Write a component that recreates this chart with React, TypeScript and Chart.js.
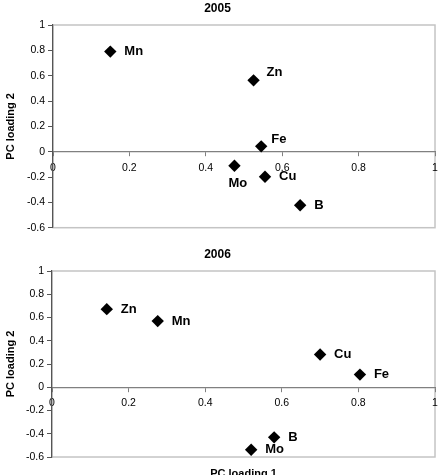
import React, { useEffect, useRef } from "react";
import { Chart, registerables } from "chart.js";

Chart.register(...registerables);

// ---- data ----
const elements2005 = ["Mn", "Zn", "Fe", "Mo", "Cu", "B"];
const pc1_2005 = [0.15, 0.525, 0.545, 0.475, 0.555, 0.647];
const pc2_2005 = [0.79, 0.563, 0.042, -0.111, -0.198, -0.423];

const elements2006 = ["Zn", "Mn", "Cu", "Fe", "B", "Mo"];
const pc1_2006 = [0.143, 0.276, 0.7, 0.804, 0.58, 0.52];
const pc2_2006 = [0.672, 0.569, 0.282, 0.109, -0.431, -0.537];

const xTicks = [0, 0.2, 0.4, 0.6, 0.8, 1];
const yTicks = [-0.6, -0.4, -0.2, 0, 0.2, 0.4, 0.6, 0.8, 1];

const xTitle = "PC loading 1";
const yTitle = "PC loading 2";

// label placement (style only)
const labelOffsets2005: Record<string, [number, number]> = {
  Zn: [13, -8],
  Fe: [10, -7],
  Mo: [-6, 18],
};
const labelOffsets2006: Record<string, [number, number]> = {};

const FONT = "'Liberation Sans', Arial, sans-serif";

type PanelProps = {
  title: string;
  names: string[];
  xs: number[];
  ys: number[];
  offsets: Record<string, [number, number]>;
  height: number;
  marginTop: number;
  yWidth: number;
  padBottom: number;
  titlePad: { top: number; bottom: number };
  showXTitle: boolean;
};

function Panel(p: PanelProps) {
  const ref = useRef<HTMLCanvasElement | null>(null);
  useEffect(() => {
    if (!ref.current) return;
    const borderPlugin = {
      id: "plotBorder",
      beforeDraw(chart: any) {
        const { ctx, chartArea } = chart;
        ctx.save();
        ctx.strokeStyle = "#c4c4c4";
        ctx.lineWidth = 1.5;
        ctx.strokeRect(
          chartArea.left,
          chartArea.top,
          chartArea.right - chartArea.left,
          chartArea.bottom - chartArea.top
        );
        ctx.restore();
      },
    };
    const labelPlugin = {
      id: "pointLabels",
      afterDatasetsDraw(chart: any) {
        const { ctx, chartArea } = chart;
        const meta = chart.getDatasetMeta(0);
        ctx.save();
        ctx.font = `bold 13px ${FONT}`;
        ctx.fillStyle = "#000";
        ctx.textAlign = "left";
        ctx.textBaseline = "middle";
        meta.data.forEach((pt: any, i: number) => {
          const name = p.names[i];
          const off = p.offsets[name] || [14, 0];
          ctx.fillText(name, pt.x + off[0], pt.y + off[1]);
        });
        if (p.showXTitle) {
          ctx.font = `bold 11px ${FONT}`;
          ctx.textAlign = "center";
          ctx.fillText(
            xTitle,
            (chartArea.left + chartArea.right) / 2,
            chartArea.bottom + 17
          );
        }
        ctx.restore();
      },
    };
    const chart = new Chart(ref.current, {
      type: "scatter",
      data: {
        datasets: [
          {
            data: p.xs.map((x, i) => ({ x, y: p.ys[i] })),
            pointStyle: "rectRot",
            pointRadius: 6.2,
            pointHoverRadius: 6.2,
            backgroundColor: "#000",
            borderColor: "#000",
            borderWidth: 0,
          },
        ],
      },
      options: {
        responsive: false,
        animation: false,
        events: [],
        layout: { padding: { top: 0, left: 0, right: 10, bottom: p.padBottom } },
        plugins: {
          legend: { display: false },
          tooltip: { enabled: false },
          title: {
            display: true,
            text: p.title,
            color: "#000",
            font: { family: FONT, size: 12, weight: "bold" },
            padding: p.titlePad,
          },
        },
        scales: {
          x: {
            type: "linear",
            min: 0,
            max: 1,
            position: { y: 0 } as any,
            afterBuildTicks: (s: any) => {
              s.ticks = xTicks.map((v) => ({ value: v }));
            },
            ticks: {
              color: "#000",
              font: { family: FONT, size: 10.5 },
              padding: 6,
              maxRotation: 0,
              callback: (v: any) => String(v),
            },
            grid: {
              display: true,
              drawOnChartArea: false,
              drawTicks: true,
              tickLength: 4,
              color: "#808080",
            },
            border: { display: true, color: "#808080", width: 1.2 },
          },
          y: {
            type: "linear",
            min: -0.6,
            max: 1,
            afterBuildTicks: (s: any) => {
              s.ticks = yTicks.map((v) => ({ value: v }));
            },
            afterFit: (s: any) => {
              s.width = p.yWidth;
            },
            ticks: {
              color: "#000",
              font: { family: FONT, size: 10.5 },
              padding: 3,
              callback: (v: any) => String(v),
            },
            grid: {
              display: true,
              drawOnChartArea: false,
              drawTicks: true,
              tickLength: 5,
              color: "#555",
            },
            border: { display: true, color: "#555", width: 1.2 },
            title: {
              display: true,
              text: yTitle,
              color: "#000",
              font: { family: FONT, size: 11, weight: "bold" },
              padding: { top: 4, bottom: 0 },
            },
          },
        },
      },
      plugins: [borderPlugin, labelPlugin],
    });
    return () => chart.destroy();
  }, []);
  return (
    <canvas
      ref={ref}
      width={445}
      height={p.height}
      style={{ display: "block", width: 445, height: p.height, marginTop: p.marginTop }}
    />
  );
}

export default function App() {
  return (
    <div
      style={{
        position: "absolute",
        left: 0,
        top: 0,
        width: 445,
        height: 475,
        background: "#fff",
        overflow: "hidden",
      }}
    >
      <Panel
        title="2005"
        names={elements2005}
        xs={pc1_2005}
        ys={pc2_2005}
        offsets={labelOffsets2005}
        height={237}
        marginTop={0}
        yWidth={53}
        padBottom={0}
        titlePad={{ top: 1, bottom: 9.6 }}
        showXTitle={false}
      />
      <Panel
        title="2006"
        names={elements2006}
        xs={pc1_2006}
        ys={pc2_2006}
        offsets={labelOffsets2006}
        height={240}
        marginTop={-2}
        yWidth={52}
        padBottom={18}
        titlePad={{ top: 12.8, bottom: 8.8 }}
        showXTitle={true}
      />
    </div>
  );
}
